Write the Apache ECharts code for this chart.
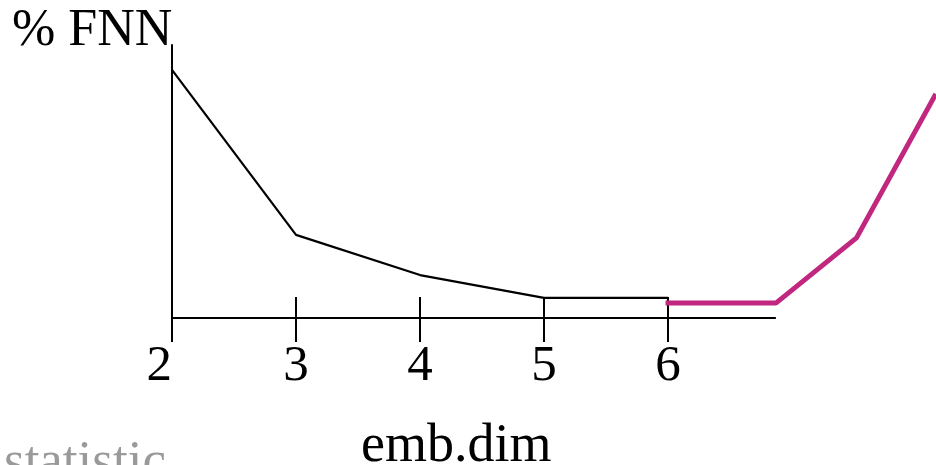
<!DOCTYPE html>
<html>
<head>
<meta charset="utf-8">
<script src="https://cdn.jsdelivr.net/npm/echarts@6/dist/echarts.min.js"></script>
<style>
  html, body { margin: 0; padding: 0; background: #fff; }
  #chart { width: 936px; height: 465px; }
</style>
</head>
<body>
<div id="chart"></div>
<script>
// False nearest neighbours (%) against embedding dimension
const embDims = [2, 3, 4, 5, 6];
const fnnPercent = [100, 33.5, 17.3, 8.1, 8.1];
// statistic curve, running on past the end of the drawn axis to the frame edge
const statX = [5.98, 6.87, 7.52, 8.16];
const statY = [6.0, 6.0, 32.3, 90.3];
const tickValues = [2, 3, 4, 5, 6];
const axisEnd = 6.87;
const xMax = 2 + 764 / 124;

const fnnData = embDims.map((d, i) => [d, fnnPercent[i]]);
const statData = statX.map((d, i) => [d, statY[i]]);

const serif = 'Liberation Serif, Times New Roman, serif';
const chart = echarts.init(document.getElementById('chart'), null, { renderer: 'canvas' });

// the plotting area spans to the right edge; the visible x axis line stops at axisEnd
chart.setOption({
  animation: false,
  backgroundColor: '#ffffff',
  grid: { left: 172, right: 0, top: 45, bottom: 147, containLabel: false },
  xAxis: [
    {
      type: 'value', min: 2, max: xMax, position: 'bottom',
      splitLine: { show: false },
      axisLine: { show: false },
      axisTick: { show: true, inside: true, length: 21, customValues: tickValues,
                  lineStyle: { color: '#000', width: 2 } },
      axisLabel: { show: true, customValues: tickValues, margin: 23, alignMinLabel: 'right',
                   fontFamily: serif, fontSize: 51, color: '#000' }
    },
    {
      type: 'value', min: 2, max: xMax, position: 'bottom',
      splitLine: { show: false },
      axisLine: { show: false },
      axisTick: { show: true, inside: false, length: 24, customValues: tickValues,
                  lineStyle: { color: '#000', width: 2 } },
      axisLabel: { show: false }
    }
  ],
  yAxis: {
    type: 'value', min: 0, max: 110,
    splitLine: { show: false },
    axisLine: { show: true, onZero: false, lineStyle: { color: '#000', width: 2 } },
    axisTick: { show: false },
    axisLabel: { show: false }
  },
  series: [
    {
      type: 'line', data: fnnData, xAxisIndex: 0, symbol: 'none',
      lineStyle: { color: '#000', width: 2.2 }, z: 3,
      markLine: {
        silent: true, symbol: 'none', label: { show: false },
        lineStyle: { color: '#000', width: 2, type: 'solid' },
        data: [[{ coord: [2, 0] }, { coord: [axisEnd, 0] }]]
      }
    },
    {
      type: 'line', data: statData, xAxisIndex: 0, symbol: 'none',
      lineStyle: { color: '#C2277F', width: 5 }, z: 4
    }
  ],
  graphic: [
    { type: 'text', left: 12, top: 5,
      style: { text: '% FNN', fontFamily: serif, fontSize: 52, fill: '#000' } },
    { type: 'text', left: 361, top: 420,
      style: { text: 'emb.dim', fontFamily: serif, fontSize: 54, fill: '#000' } },
    { type: 'text', left: 4, top: 437,
      style: { text: 'statistic', fontFamily: serif, fontSize: 53, fill: '#9a9a9a' } }
  ]
});
</script>
</body>
</html>
